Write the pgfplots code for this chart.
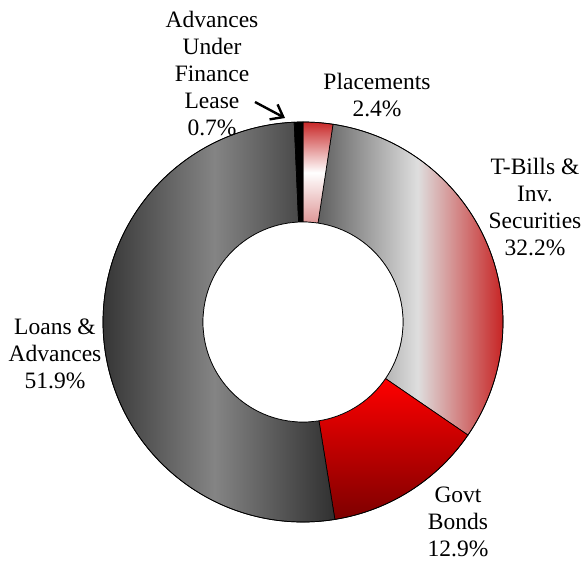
\documentclass[border=0pt]{standalone}
\usepackage{pgfplots}
\pgfplotsset{compat=1.18}
\usepackage{pgfplotstable}
\usetikzlibrary{arrows.meta}
\usepackage{fontspec}
\setmainfont{Liberation Serif}
\newfontfamily\lserif{Liberation Serif}

\definecolor{lnA}{RGB}{48,48,48}
\definecolor{lnB}{RGB}{132,132,132}
\definecolor{tbA}{RGB}{95,95,95}
\definecolor{tbB}{RGB}{222,222,222}
\definecolor{tbC}{RGB}{195,5,5}
\definecolor{gbA}{RGB}{255,0,0}
\definecolor{gbB}{RGB}{125,0,0}
\definecolor{plA}{RGB}{200,40,40}
\definecolor{plB}{RGB}{222,150,150}

\pgfplotstableread{
label value
Placements 2.4
TBills 32.2
GovtBonds 12.9
Loans 51.9
Lease 0.7
}\piedata

\newcommand\getval[2]{\pgfplotstablegetelem{#1}{value}\of\piedata\global\let#2\pgfplotsretval}
\def\cx{303}
\def\cy{241}
\newcommand\slice[3]{%
  \path[#3, draw=black, line width=0.7pt]
    ([shift={(#1:200pt)}]axis cs:\cx,\cy) arc[start angle=#1, end angle=#2, radius=200pt]
    -- ([shift={(#2:100pt)}]axis cs:\cx,\cy) arc[start angle=#2, end angle=#1, radius=100pt]
    -- cycle;}

\begin{document}%
\getval{0}\vA%
\getval{1}\vB%
\getval{2}\vC%
\getval{3}\vD%
\getval{4}\vE%
\pgfmathsetmacro\tot{\vA+\vB+\vC+\vD+\vE}%
\pgfmathsetmacro\aA{90}%
\pgfmathsetmacro\aB{\aA-360*(\vA/\tot)}%
\pgfmathsetmacro\aC{\aB-360*(\vB/\tot)}%
\pgfmathsetmacro\aD{\aC-360*(\vC/\tot)}%
\pgfmathsetmacro\aE{\aD-360*(\vD/\tot)}%
\pgfmathsetmacro\aF{\aE-360*(\vE/\tot)}%
\begin{tikzpicture}
\begin{axis}[
  width=584pt, height=563pt, scale only axis,
  xmin=0, xmax=584, ymin=0, ymax=563,
  hide axis, clip=false,
]
\path (axis cs:0,0) rectangle (axis cs:584,563);
\slice{\aB}{\aC}{left color=tbA, right color=tbC, middle color=tbB}
\slice{\aC}{\aD}{top color=gbA, bottom color=gbB}
\slice{\aD}{\aE}{left color=lnA, right color=lnA, middle color=lnB}
\slice{\aA}{\aB}{top color=plA, bottom color=plB, middle color=white}
\slice{\aE}{\aF}{fill=black}
\draw[line width=0.7pt] (axis cs:\cx,\cy) circle[radius=200pt];
\draw[line width=0.7pt, fill=white] (axis cs:\cx,\cy) circle[radius=100pt];
\begin{scope}[every node/.style={align=center, inner sep=0pt, font=\lserif\fontsize{23.5}{27}\selectfont}]
\node at (axis cs:212,489) {Advances\\Under\\Finance\\Lease\\0.7\%};
\node at (axis cs:377,468) {Placements\\2.4\%};
\node at (axis cs:535,356) {T-Bills \&\\Inv.\\Securities\\32.2\%};
\node at (axis cs:55,209) {Loans \&\\Advances\\51.9\%};
\node at (axis cs:458,41) {Govt\\Bonds\\12.9\%};
\end{scope}
\draw[line width=2.4pt, -{Straight Barb[length=11pt,width=17pt]}] (axis cs:255,461) -- (axis cs:285,445);
\end{axis}
\end{tikzpicture}%
\end{document}
